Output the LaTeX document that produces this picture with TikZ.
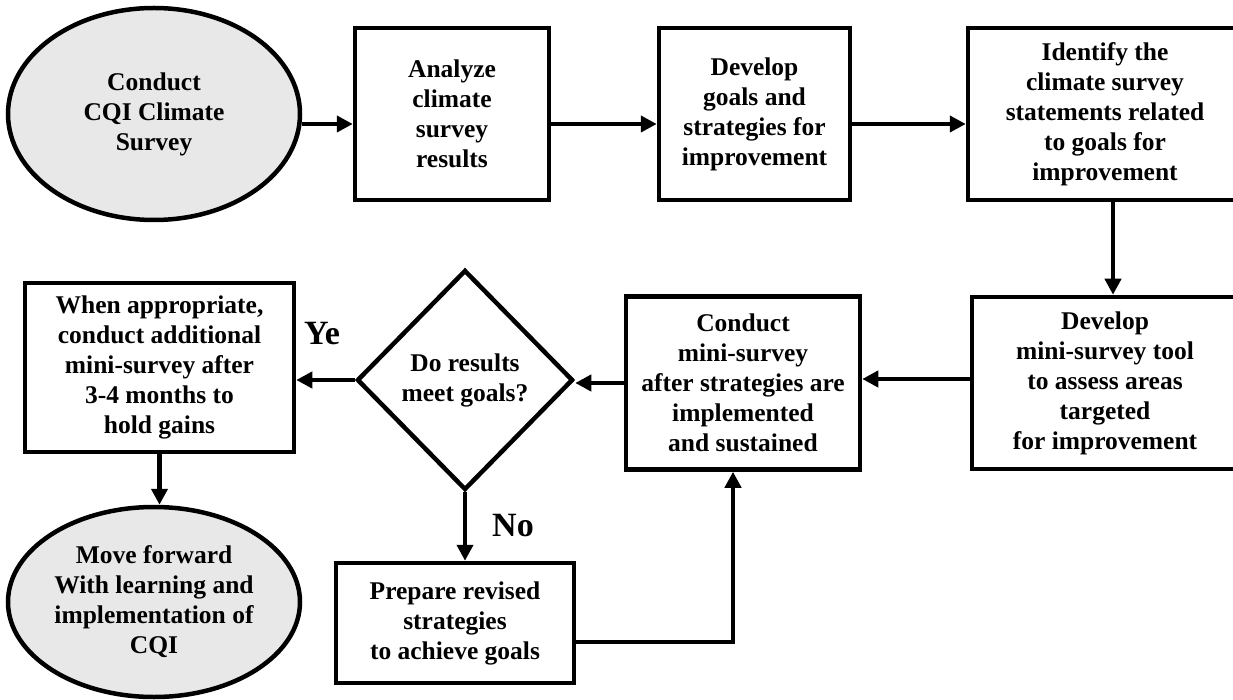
\documentclass[tikz,border=0pt]{standalone}
\usepackage{fontspec}
\setmainfont{Liberation Serif}
\usepackage{tikz}
\usepackage{xcolor}
\usetikzlibrary{shapes.geometric, arrows.meta}

\definecolor{ovalgray}{HTML}{E8E8E8}

\tikzset{
    stepbox/.style={draw, line width=4.5pt, align=center, inner sep=2pt,
        font=\fontsize{25.5}{30}\selectfont\bfseries},
    oval/.style={stepbox, ellipse, fill=ovalgray},
    decision/.style={stepbox, diamond, inner sep=0pt},
    flow/.style={line width=4.5pt, -{Triangle[length=16pt, width=16pt]}},
    answer/.style={font=\fontsize{34}{38}\selectfont\bfseries}
}

\begin{document}
\begin{tikzpicture}[x=1pt, y=-1pt]
    \useasboundingbox (0,0) rectangle (1233,700);

    % Top row: survey and planning
    \node[oval, minimum width=292, minimum height=212] (survey) at (154,114)
        {Conduct\\CQI Climate\\Survey};
    \node[stepbox, minimum width=194, minimum height=172] (analyze) at (452,114)
        {Analyze\\climate\\survey\\results};
    \node[stepbox, minimum width=191, minimum height=172] (goals) at (754.5,114)
        {Develop\\goals and\\strategies for\\improvement};
    \node[stepbox, minimum width=274, minimum height=172] (identify) at (1105,114)
        {Identify the\\climate survey\\statements related\\to goals for\\improvement};

    \draw[flow] ([yshift=-10pt]survey.east) -- ([yshift=-10pt]analyze.west);
    \draw[flow] ([yshift=-10pt]analyze.east) -- ([yshift=-10pt]goals.west);
    \draw[flow] ([yshift=-10pt]goals.east) -- ([yshift=-10pt]identify.west);

    % Middle row: mini-survey loop
    \node[stepbox, minimum width=266, minimum height=172] (tool) at (1105,383)
        {Develop\\mini-survey tool\\to assess areas\\targeted\\for improvement};
    \node[stepbox, minimum width=234, minimum height=173] (mini) at (743,383)
        {Conduct\\mini-survey\\after strategies are\\implemented\\and sustained};
    \node[decision, minimum width=216, minimum height=220] (check) at (465,380)
        {Do results\\meet goals?};
    \node[stepbox, minimum width=269, minimum height=169] (hold) at (159.5,367.5)
        {When appropriate,\\conduct additional\\mini-survey after\\3-4 months to\\hold gains};

    \draw[flow] ([xshift=8pt]identify.south) -- ([xshift=8pt]tool.north);
    \draw[flow] ([yshift=4pt]tool.west) -- ([yshift=4pt]mini.east);
    \draw[flow] (mini.west) -- (mini.west -| check.east);
    \draw[flow] (check.west) -- (check.west -| hold.east);
    \node[answer] (yes) at (322,334) {Ye};

    % Bottom row: revise or move forward
    \node[stepbox, minimum width=238, minimum height=120] (revise) at (455,623)
        {Prepare revised\\strategies\\to achieve goals};
    \node[oval, minimum width=292, minimum height=190] (forward) at (154,602)
        {Move forward\\With learning and\\implementation of\\CQI};

    \draw[flow] (check.south) -- (check.south |- revise.north);
    \node[answer] (no) at (513,526) {No};
    \draw[flow] ([yshift=-19pt]revise.east) -| ([xshift=-10pt]mini.south);
    \draw[flow] (hold.south) -- (hold.south |- forward.north);
\end{tikzpicture}
\end{document}
